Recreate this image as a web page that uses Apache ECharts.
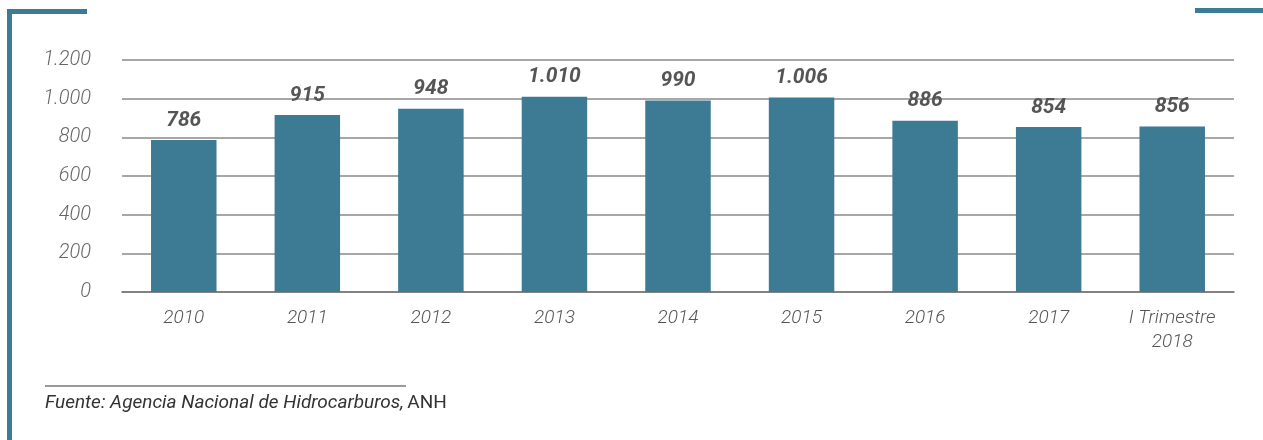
<!DOCTYPE html>
<html>
<head>
<meta charset="utf-8">
<script src="https://cdn.jsdelivr.net/npm/echarts@6/dist/echarts.min.js"></script>
<style>
  html, body { margin: 0; padding: 0; background: #ffffff; }
  #chart { width: 1263px; height: 440px; }
</style>
</head>
<body>
<div id="chart"></div>
<script>
const categories = ['2010', '2011', '2012', '2013', '2014', '2015', '2016', '2017', 'I Trimestre\n2018'];
const values = [786, 915, 948, 1010, 990, 1006, 886, 854, 856];
const yTicks = [0, 200, 400, 600, 800, 1000, 1200];

const teal = '#3d7a93';
const grey = '#555555';

function fmt(v) {
  return String(v).replace(/\B(?=(\d{3})+(?!\d))/g, '.');
}

let chart = echarts.init(document.querySelector('#chart'));

let option = {
  animation: false,
  textStyle: { fontFamily: 'Roboto' },
  grid: { left: 122, right: 29, top: 60, bottom: 148 },
  xAxis: {
    type: 'category',
    data: categories,
    axisLine: { lineStyle: { color: '#777777', width: 1.5 } },
    axisTick: { show: false },
    axisLabel: {
      color: grey,
      fontFamily: 'Roboto',
      fontSize: 19,
      fontWeight: 300,
      fontStyle: 'italic',
      margin: 14,
      lineHeight: 24
    }
  },
  yAxis: {
    type: 'value',
    min: yTicks[0],
    max: yTicks[yTicks.length - 1],
    interval: 200,
    axisLine: { show: false },
    axisTick: { show: false },
    splitLine: { lineStyle: { color: '#8a8a8a', width: 1.5 } },
    axisLabel: {
      color: '#666666',
      fontFamily: 'Roboto',
      fontSize: 20,
      fontWeight: 300,
      fontStyle: 'italic',
      margin: 31,
      formatter: (v) => fmt(v)
    }
  },
  series: [
    {
      type: 'bar',
      data: values,
      barWidth: '53%',
      itemStyle: { color: teal },
      label: {
        show: true,
        position: 'top',
        distance: 9,
        color: grey,
        fontFamily: 'Roboto',
        fontSize: 21,
        fontWeight: 'bold',
        fontStyle: 'italic',
        formatter: (p) => fmt(p.value)
      }
    }
  ],
  graphic: [
    { type: 'rect', shape: { x: 7, y: 9, width: 5, height: 431 }, style: { fill: teal } },
    { type: 'rect', shape: { x: 7, y: 9, width: 80, height: 5 }, style: { fill: teal } },
    { type: 'rect', shape: { x: 1195, y: 8, width: 68, height: 5 }, style: { fill: teal } },
    { type: 'line', shape: { x1: 45, y1: 386, x2: 406, y2: 386 }, style: { stroke: '#777777', lineWidth: 1.5 } },
    {
      type: 'text',
      left: 45,
      top: 394,
      style: {
        text: '{i|Fuente: Agencia Nacional de Hidrocarburos,} {n|ANH}',
        rich: {
          i: { fontFamily: 'Roboto', fontStyle: 'italic', fontSize: 19, fill: '#333333' },
          n: { fontFamily: 'Roboto', fontSize: 19, fill: '#333333' }
        }
      }
    }
  ]
};

chart.setOption(option);
</script>
</body>
</html>
